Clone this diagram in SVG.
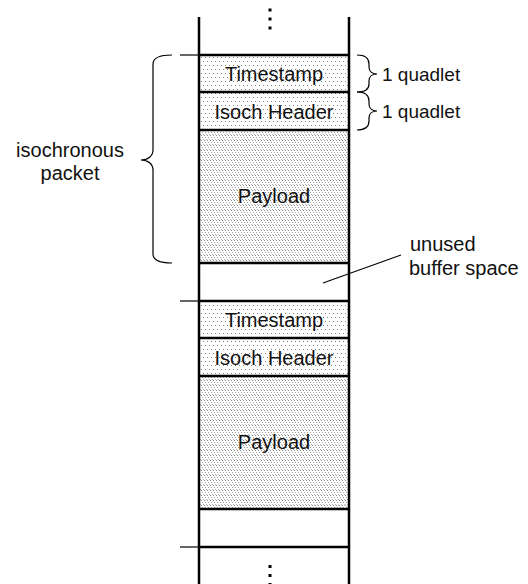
<svg xmlns="http://www.w3.org/2000/svg" width="528" height="584" viewBox="0 0 528 584">
  <defs>
    <!-- sparse staggered dots for header cells -->
    <pattern id="dotsLight" width="4" height="8" patternUnits="userSpaceOnUse">
      <rect width="4" height="8" fill="#ffffff"/>
      <rect x="1" y="1" width="1" height="1" fill="#808080"/>
      <rect x="3" y="5" width="1" height="1" fill="#808080"/>
    </pattern>
    <!-- denser dot rows for payload cells -->
    <pattern id="dotsDense" width="3" height="5" patternUnits="userSpaceOnUse">
      <rect width="3" height="5" fill="#ffffff"/>
      <rect x="0" y="0" width="1" height="1" fill="#8a8a8a"/>
      <rect x="1" y="2" width="1" height="1" fill="#a0a0a0"/>
      <rect x="2" y="4" width="1" height="1" fill="#b0b0b0"/>
    </pattern>
    <style>
      .lbl { font-family: "Liberation Sans", Arial, sans-serif; font-size: 20px; fill: #111; }
      .sm { font-size: 19px; }
      .mid { text-anchor: middle; }
      .cell { stroke: none; }
      .div { stroke: #000; stroke-width: 2.5; fill: none; }
      .thin { stroke: #000; stroke-width: 1.2; fill: none; }
      .brace { stroke: #000; stroke-width: 1.2; fill: none; }
    </style>
  </defs>

  <!-- shaded cells -->
  <g id="packet1">
    <g id="ts1"><rect class="cell" x="199" y="55" width="150" height="37" fill="url(#dotsLight)"/><text class="lbl mid" x="274" y="81">Timestamp</text></g>
    <g id="hdr1"><rect class="cell" x="199" y="92" width="150" height="38" fill="url(#dotsLight)"/><text class="lbl mid" x="274" y="119">Isoch Header</text></g>
    <g id="pay1"><rect class="cell" x="199" y="130" width="150" height="133" fill="url(#dotsDense)"/><text class="lbl mid" x="274" y="203">Payload</text></g>
  </g>
  <g id="packet2">
    <g id="ts2"><rect class="cell" x="199" y="301" width="150" height="37" fill="url(#dotsLight)"/><text class="lbl mid" x="274" y="327">Timestamp</text></g>
    <g id="hdr2"><rect class="cell" x="199" y="338" width="150" height="38" fill="url(#dotsLight)"/><text class="lbl mid" x="274" y="365">Isoch Header</text></g>
    <g id="pay2"><rect class="cell" x="199" y="376" width="150" height="133" fill="url(#dotsDense)"/><text class="lbl mid" x="274" y="449">Payload</text></g>
  </g>

  <!-- buffer column outline and cell boundaries -->
  <g id="column">
    <line class="div" x1="199" y1="17" x2="199" y2="584"/>
    <line class="div" x1="349" y1="17" x2="349" y2="584"/>
    <line class="div" x1="199" y1="55" x2="349" y2="55"/>
    <line class="div" x1="199" y1="92" x2="349" y2="92"/>
    <line class="div" x1="199" y1="130" x2="349" y2="130"/>
    <line class="div" x1="199" y1="263" x2="349" y2="263"/>
    <line class="div" x1="199" y1="301" x2="349" y2="301"/>
    <line class="div" x1="199" y1="338" x2="349" y2="338"/>
    <line class="div" x1="199" y1="376" x2="349" y2="376"/>
    <line class="div" x1="199" y1="509" x2="349" y2="509"/>
    <line class="div" x1="199" y1="547" x2="349" y2="547"/>
    <!-- packet start ticks -->
    <line class="thin" x1="180" y1="55" x2="199" y2="55"/>
    <line class="thin" x1="180" y1="301" x2="199" y2="301"/>
    <line class="thin" x1="180" y1="547" x2="199" y2="547"/>
    <!-- continuation dots -->
    <rect x="268.5" y="8.5" width="3" height="3" fill="#000"/>
    <rect x="268.5" y="17.5" width="3" height="3" fill="#000"/>
    <rect x="268.5" y="26.5" width="3" height="3" fill="#000"/>
    <rect x="268.5" y="565" width="3" height="3" fill="#000"/>
    <rect x="268.5" y="574" width="3" height="3" fill="#000"/>
    <rect x="268.5" y="583" width="3" height="3" fill="#000"/>
  </g>

  <!-- braces and leader -->
  <g id="connectors">
    <path class="brace" d="M357,55 C365,55 369,58 369,64 L369,67 C369,71 372,74 377,74 C372,74 369,77 369,81 L369,84 C369,89 365,92 357,92"/>
    <path class="brace" d="M357,92 C365,92 369,95 369,101 L369,104 C369,108 372,111 377,111 C372,111 369,114 369,118 L369,121 C369,127 365,130 357,130"/>
    <path class="brace" d="M172,55 C161,55 153,57 153,64 L153,150 C153,156 148,160 141,160 C148,160 153,164 153,170 L153,254 C153,261 161,263 172,263"/>
    <line class="thin" x1="323" y1="283" x2="401" y2="255"/>
  </g>

  <!-- side labels -->
  <g id="labels">
    <text class="lbl sm" x="382" y="81">1 quadlet</text>
    <text class="lbl sm" x="382" y="118">1 quadlet</text>
    <text class="lbl mid" x="70" y="157">isochronous</text>
    <text class="lbl mid" x="70" y="180">packet</text>
    <text class="lbl" x="410" y="251">unused</text>
    <text class="lbl" x="409" y="275">buffer space</text>
  </g>
</svg>
